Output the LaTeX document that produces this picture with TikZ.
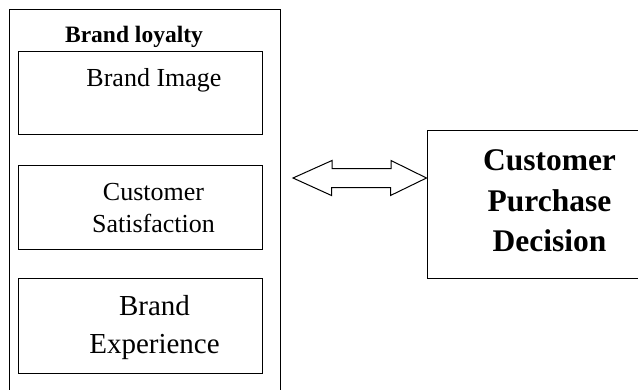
\documentclass[tikz,border=0pt]{standalone}
\usepackage{fontspec}
\setmainfont{Liberation Serif}
\begin{document}
\begin{tikzpicture}[x=1pt,y=-1pt,line width=1pt,
  frame/.style={draw, rectangle, inner sep=0pt},
  inbox/.style={frame, minimum width=244pt},
  lbl/.style={inner sep=0pt, align=center}]
\useasboundingbox (0,0) rectangle (638,389);
% outer container (open at bottom: extends past the page)
\node[frame, minimum width=270.5pt, minimum height=390pt] (loyal) at (144.75,204.5) {};
\node[lbl, anchor=base, font=\fontsize{23.5}{28}\selectfont\bfseries] (loyaltitle) at (134,42) {Brand loyalty};
% inner boxes
\node[inbox, minimum height=83pt] (img) at (140,92.5) {};
\node[lbl, anchor=base, font=\fontsize{26}{31}\selectfont] (imgtxt) at (154,86) {Brand Image};
\node[inbox, minimum height=84pt] (sat) at (140,207) {};
\node[lbl, font=\fontsize{26}{32}\selectfont] (sattxt) at (153.5,208.5) {Customer\\Satisfaction};
\node[inbox, minimum height=95pt] (exp) at (140,325.5) {};
\node[lbl, font=\fontsize{29}{38}\selectfont] (exptxt) at (154.5,327.5) {Brand\\Experience};
% right box (open at right: extends past the page)
\node[frame, minimum width=245pt, minimum height=148pt] (cpd) at (549.5,204) {};
\node[lbl, font=\fontsize{31.5}{40.5}\selectfont\bfseries] (cpdtxt) at (549.5,201) {Customer\\Purchase\\Decision};
% double outline arrow
\coordinate (aL) at (293,178);
\coordinate (aR) at (aL -| cpd.west);
\draw (aL) -- ++(39,-17.5) -- ++(0,8) -- ++(59,0) -- ++(0,-8) -- (aR)
  -- ++(-36,17.5) -- ++(0,-8) -- ++(-59,0) -- ++(0,8) -- cycle;
\end{tikzpicture}
\end{document}
